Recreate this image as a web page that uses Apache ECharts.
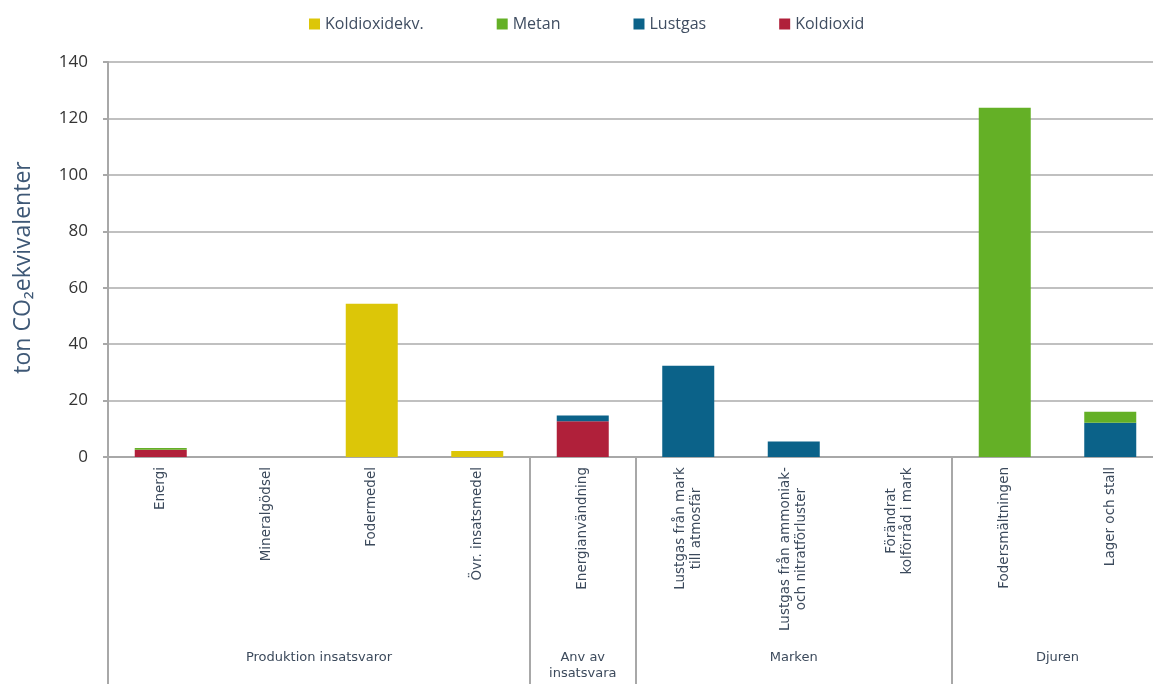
<!DOCTYPE html>
<html>
<head>
<meta charset="utf-8">
<script src="https://cdn.jsdelivr.net/npm/echarts@6/dist/echarts.min.js"></script>
<style>
html,body{margin:0;padding:0;background:#fff;}
#c{width:1153px;height:684px;}
</style>
</head>
<body>
<div id="c"></div>
<script>
// ---- data ----
const categories = [
  'Energi', 'Mineralgödsel', 'Fodermedel', 'Övr. insatsmedel',
  'Energianvändning',
  'Lustgas från mark\ntill atmosfär', 'Lustgas från ammoniak-\noch nitratförluster', 'Förändrat\nkolförråd i mark',
  'Fodersmältningen', 'Lager och stall'
];
const koldioxid    = [2.6, 0, 0, 0, 12.7, 0, 0, 0, 0, 0];
const lustgas      = [0, 0, 0, 0, 2.0, 32.3, 5.5, 0, 0, 12.1];
const metan        = [0.6, 0, 0, 0, 0, 0, 0, 0, 123.8, 3.9];
const koldioxidekv = [0, 0, 54.3, 2.1, 0, 0, 0, 0, 0, 0];
const seriesNames  = ['Koldioxidekv.', 'Metan', 'Lustgas', 'Koldioxid'];
const groupNames   = ['Produktion insatsvaror', 'Anv av\ninsatsvara', 'Marken', 'Djuren'];
const groupSizes   = [4, 1, 3, 2];
const yTicks       = [0, 20, 40, 60, 80, 100, 120, 140];

// group boundaries and centres in category units
const bounds = [0];
groupSizes.forEach(s => bounds.push(bounds[bounds.length - 1] + s));
const centres = groupSizes.map((s, i) => bounds[i] + s / 2);

const catSize = 13.5;
const meas = document.createElement('canvas').getContext('2d');
meas.font = catSize + 'px "DejaVu Sans"';
const rich = {};
const catLabel = {};
categories.forEach((c, i) => {
  if (c.indexOf('\n') >= 0) {
    const lines = c.split('\n');
    const w = Math.ceil(Math.max(...lines.map(l => meas.measureText(l).width)));
    rich['r' + i] = { width: w, align: 'center', fontSize: catSize, fontFamily: 'DejaVu Sans', color: '#3c4a5c', lineHeight: 16 };
    catLabel[c] = lines.map(l => '{r' + i + '|' + l + '}').join('\n');
  } else {
    catLabel[c] = c;
  }
});

const colors = { 'Koldioxidekv.': '#dcc608', 'Metan': '#64b026', 'Lustgas': '#0b6289', 'Koldioxid': '#b0203a' };
const dataMap = { 'Koldioxidekv.': koldioxidekv, 'Metan': metan, 'Lustgas': lustgas, 'Koldioxid': koldioxid };
const stackOrder = ['Koldioxid', 'Lustgas', 'Metan', 'Koldioxidekv.'];

const chart = echarts.init(document.getElementById('c'), null, { renderer: 'canvas' });
chart.setOption({
  animation: false,
  backgroundColor: '#fff',
  legend: {
    data: seriesNames,
    top: 11,
    left: 304,
    itemWidth: 11,
    itemHeight: 11,
    itemGap: 73,
    icon: 'rect',
    textStyle: { fontFamily: 'Open Sans', fontSize: 16, color: '#3f4d61' }
  },
  grid: { left: 108, top: 62, bottom: 227, width: 1055, outerBoundsMode: 'none' },
  xAxis: [
    {
      type: 'category',
      data: categories,
      axisLine: { lineStyle: { color: '#a8a8a8', width: 2 } },
      axisTick: { show: false },
      axisLabel: {
        rotate: 90, interval: 0, margin: 10,
        fontFamily: 'DejaVu Sans', fontSize: catSize, color: '#3c4a5c', lineHeight: 16,
        formatter: v => catLabel[v],
        rich: rich
      }
    },
    {
      type: 'value',
      min: 0, max: categories.length,
      position: 'bottom',
      axisLine: { show: false },
      splitLine: { show: false },
      axisTick: {
        show: true, customValues: bounds, length: 227,
        lineStyle: { color: '#a8a8a8', width: 2 }
      },
      axisLabel: {
        customValues: centres,
        margin: 193,
        fontFamily: 'DejaVu Sans', fontSize: 13, color: '#3c4a5c', lineHeight: 16,
        formatter: v => { const i = centres.indexOf(v); return i >= 0 ? groupNames[i] : ''; }
      }
    }
  ],
  yAxis: {
    type: 'value',
    min: 0, max: 140, interval: 20,
    name: 'ton CO₂ekvivalenter',
    nameLocation: 'middle',
    nameGap: 73,
    nameTextStyle: { fontFamily: 'Open Sans', fontSize: 23, color: '#3e5876', padding: [0, 16, 0, 0] },
    axisLine: { show: true, lineStyle: { color: '#a8a8a8', width: 2 } },
    axisTick: { show: true, length: 5, lineStyle: { color: '#a8a8a8', width: 2 } },
    axisLabel: {
      margin: 20, fontFamily: 'Open Sans', fontSize: 17, color: '#333',
      formatter: v => yTicks.indexOf(v) >= 0 ? String(v) : ''
    },
    splitLine: { lineStyle: { color: '#c0c0c0', width: 2 } }
  },
  series: stackOrder.map(n => ({
    name: n,
    type: 'bar',
    stack: 'total',
    xAxisIndex: 0,
    barWidth: 52,
    itemStyle: { color: colors[n] },
    data: dataMap[n]
  }))
});
</script>
</body>
</html>
